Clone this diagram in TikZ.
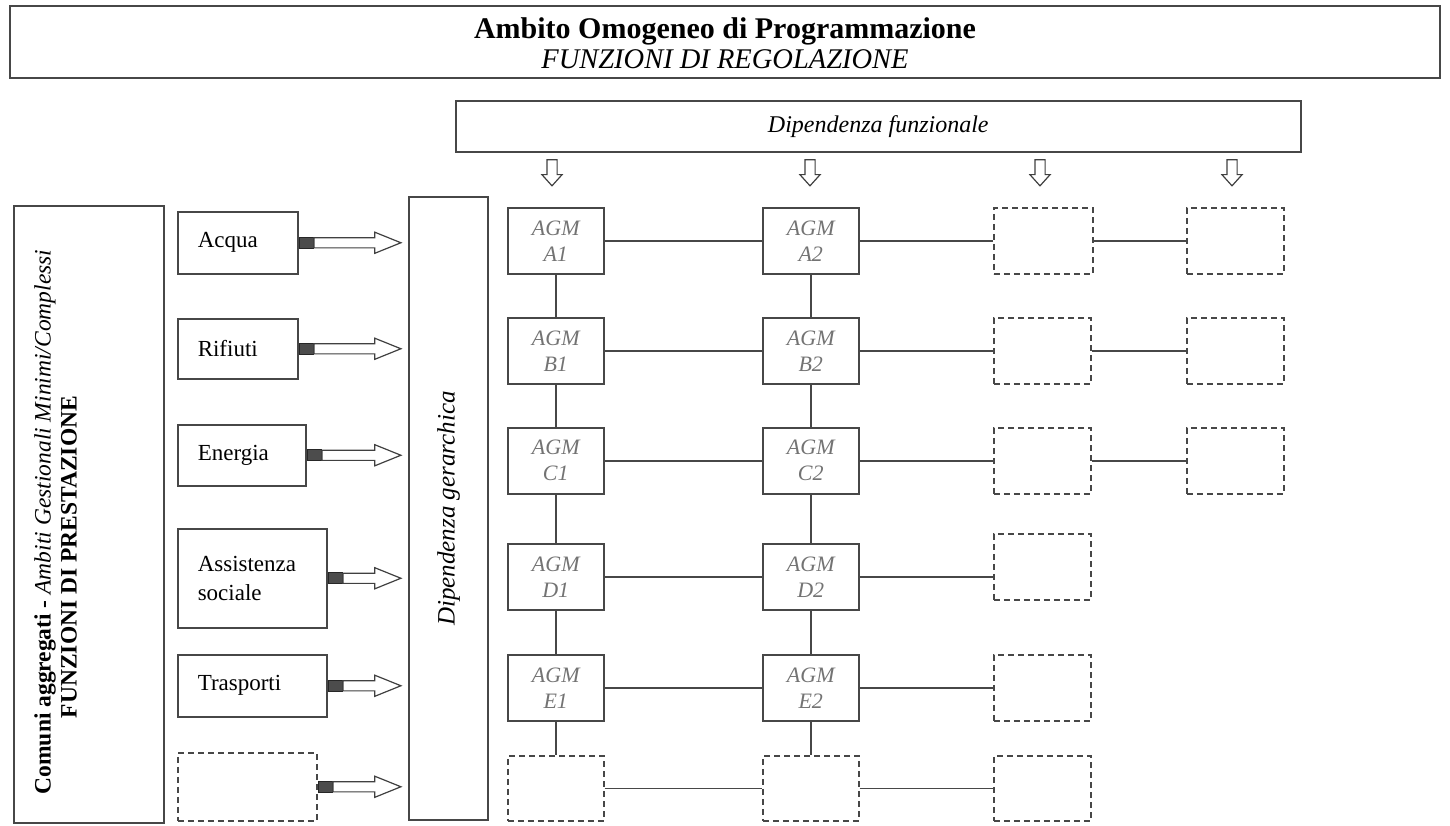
\documentclass[tikz,border=0pt]{standalone}
\usepackage{fontspec}
\setmainfont{Liberation Serif}
\usetikzlibrary{shapes.arrows}
\begin{document}
\begin{tikzpicture}[x=1pt,y=-1pt,
  box/.style={draw=black!72, line width=1.5pt, fill=white, inner sep=0pt, anchor=north west},
  dbox/.style={box, dash pattern=on 6pt off 4pt},
  svc/.style={box, align=left, inner xsep=20pt, font=\fontsize{23}{29}\selectfont},
  agm/.style={box, minimum width=96pt, minimum height=66pt, align=center, text=black!55, font=\fontsize{22}{26}\selectfont\itshape},
  emptybox/.style={dbox, minimum height=66pt},
  link/.style={draw=black!72, line width=1.5pt},
  tailblk/.style={draw=black!85, fill=black!70, line width=0.8pt, minimum width=14pt, minimum height=11pt, inner sep=0pt, anchor=west},
  harr/.style={single arrow, draw=black!75, line width=1.2pt, fill=white, inner xsep=0pt, inner ysep=4.5pt, minimum width=0pt, single arrow head extend=5.5pt, single arrow tip angle=44, anchor=tail},
  varr/.style={single arrow, shape border rotate=270, draw=black!75, line width=1.2pt, fill=white, inner xsep=4.5pt, inner ysep=0pt, minimum width=0pt, single arrow head extend=5pt, single arrow tip angle=84, minimum height=26pt}
]
\useasboundingbox (0,0) rectangle (1450,825);

% top box
\node[draw=black!72, line width=1.5pt, minimum width=1430pt, minimum height=72pt, inner sep=0pt] (top) at (725,42) {};
\node[inner sep=0pt, font=\fontsize{30}{30}\selectfont\bfseries] (title) at (725,31) {Ambito Omogeneo di Programmazione};
\node[inner sep=0pt, font=\fontsize{28.5}{30}\selectfont\itshape] (subtitle) at (725,59) {FUNZIONI DI REGOLAZIONE};

% functional dependency box
\node[box, minimum width=845pt, minimum height=51pt, font=\fontsize{24}{26}\selectfont\itshape] (df) at (455,100) {Dipendenza funzionale};

\node[varr] (d1) at (552,170) {};
\node[varr] (d2) at (810,170) {};
\node[varr] (d3) at (1040,170) {};
\node[varr] (d4) at (1232,170) {};

% left box
\node[box, minimum width=150pt, minimum height=617pt] (left) at (13,205) {};
\node[rotate=90, inner sep=0pt, font=\fontsize{23.5}{24}\selectfont] (lefttxt) at (45,522)
  {\textbf{Comuni aggregati -} \textit{Ambiti Gestionali Minimi/Complessi}};
\node[rotate=90, inner sep=0pt, font=\fontsize{23.5}{24}\selectfont\bfseries] (lefttxt2) at (69,557)
  {FUNZIONI DI PRESTAZIONE};

% service boxes
\node[svc, text width=80pt, minimum height=62pt] (acqua) at (177,211) {Acqua};
\node[svc, text width=80pt, minimum height=60pt] (rifiuti) at (177,318) {Rifiuti};
\node[svc, text width=88pt, minimum height=61pt] (energia) at (177,424) {Energia};
\node[svc, text width=109pt, minimum height=99pt] (assist) at (177,528) {Assistenza\\sociale};
\node[svc, text width=109pt, minimum height=62pt] (trasp) at (177,654) {Trasporti};
\node[dbox, minimum width=139pt, minimum height=68pt] (svcx) at (177,752) {};

\node[tailblk] (t1) at (acqua.east) {};
\node[harr, minimum height=87pt] (h1) at (t1.east) {};
\node[tailblk] (t2) at (rifiuti.east) {};
\node[harr, minimum height=87pt] (h2) at (t2.east) {};
\node[tailblk] (t3) at (energia.east) {};
\node[harr, minimum height=79pt] (h3) at (t3.east) {};
\node[tailblk] (t4) at (assist.east) {};
\node[harr, minimum height=58pt] (h4) at (t4.east) {};
\node[tailblk] (t5) at (trasp.east) {};
\node[harr, minimum height=58pt] (h5) at (t5.east) {};
\node[tailblk] (t6) at (svcx.east) {};
\node[harr, minimum height=68pt] (h6) at (t6.east) {};

% hierarchical dependency box
\node[draw=black!72, line width=1.5pt, fill=white, rotate=90, minimum width=623pt, minimum height=79pt, inner sep=0pt, font=\fontsize{25}{26}\selectfont\itshape] (dg) at (448.5,508.5) {Dipendenza gerarchica};

% AGM grid
\node[agm] (a1) at (507,207) {AGM\\A1};
\node[agm] (a2) at (762,207) {AGM\\A2};
\node[emptybox, minimum width=99pt] (a3) at (993,207) {};
\node[emptybox, minimum width=97pt] (a4) at (1186,207) {};

\node[agm] (b1) at (507,317) {AGM\\B1};
\node[agm] (b2) at (762,317) {AGM\\B2};
\node[emptybox, minimum width=97pt] (b3) at (993,317) {};
\node[emptybox, minimum width=97pt] (b4) at (1186,317) {};

\node[agm] (c1) at (507,427) {AGM\\C1};
\node[agm] (c2) at (762,427) {AGM\\C2};
\node[emptybox, minimum width=97pt] (c3) at (993,427) {};
\node[emptybox, minimum width=97pt] (c4) at (1186,427) {};

\node[agm] (e1) at (507,543) {AGM\\D1};
\node[agm] (e2) at (762,543) {AGM\\D2};
\node[emptybox, minimum width=97pt] (e3) at (993,533) {};

\node[agm] (f1) at (507,654) {AGM\\E1};
\node[agm] (f2) at (762,654) {AGM\\E2};
\node[emptybox, minimum width=97pt] (f3) at (993,654) {};

\node[emptybox, minimum width=96pt, minimum height=65pt] (g1) at (507,755) {};
\node[emptybox, minimum width=96pt, minimum height=65pt] (g2) at (762,755) {};
\node[emptybox, minimum width=97pt, minimum height=65pt] (g3) at (993,755) {};

% horizontal links
\draw[link] (a1) -- (a2); \draw[link] (a2) -- (a3); \draw[link] (a3) -- (a4);
\draw[link] (b1) -- (b2); \draw[link] (b2) -- (b3); \draw[link] (b3) -- (b4);
\draw[link] (c1) -- (c2); \draw[link] (c2) -- (c3); \draw[link] (c3) -- (c4);
\draw[link] (e1) -- (e2); \draw[link] (e2) -- (e3.west |- e2);
\draw[link] (f1) -- (f2); \draw[link] (f2) -- (f3);
\draw[link] (g1) -- (g2); \draw[link] (g2) -- (g3);

% vertical links
\draw[link] (a1) -- (b1); \draw[link] (b1) -- (c1); \draw[link] (c1) -- (e1); \draw[link] (e1) -- (f1); \draw[link] (f1) -- (g1);
\draw[link] (a2) -- (b2); \draw[link] (b2) -- (c2); \draw[link] (c2) -- (e2); \draw[link] (e2) -- (f2); \draw[link] (f2) -- (g2);
\end{tikzpicture}
\end{document}
